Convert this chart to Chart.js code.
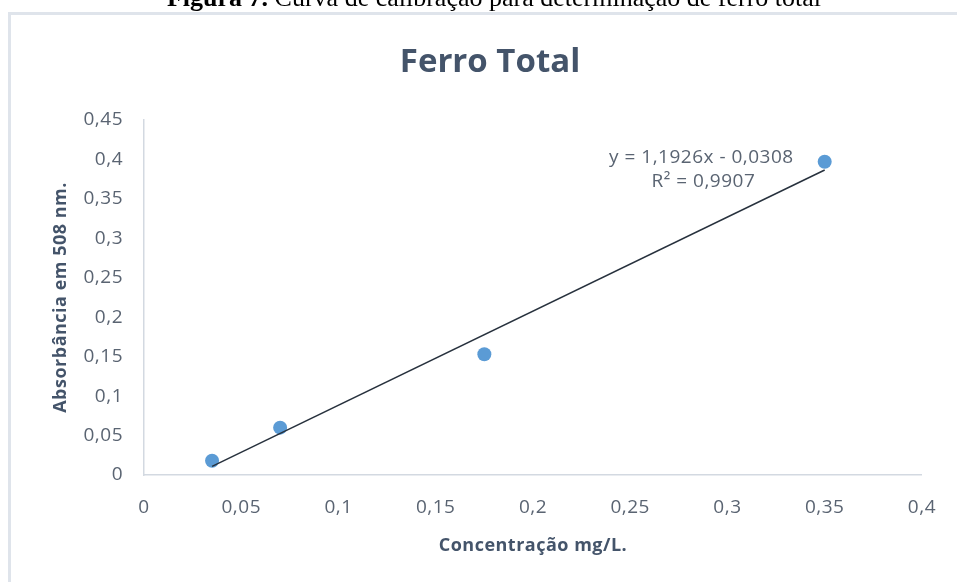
<!DOCTYPE html>
<html>
<head>
<meta charset="utf-8">
<script src="https://cdn.jsdelivr.net/npm/chart.js@4.4.1/dist/chart.umd.min.js"></script>
<style>
  html, body { margin: 0; padding: 0; background: #ffffff; }
  #wrap { position: relative; width: 957px; height: 582px; }
  canvas { display: block; }
</style>
</head>
<body>
<div id="wrap"><canvas id="chart" width="957" height="582"></canvas></div>
<script>
// Calibration data: iron concentration (mg/L) vs absorbance at 508 nm
const concentracao = [0.035, 0.07, 0.175, 0.35];
const absorbancia  = [0.018, 0.06, 0.153, 0.397];

// Linear fit reported on the chart
const inclinacao = 1.1926;
const intercepto = -0.0308;
const r2 = 0.9907;

// Axis ticks
const xTickValues = [0, 0.05, 0.1, 0.15, 0.2, 0.25, 0.3, 0.35, 0.4];
const xTickLabels = ['0', '0,05', '0,1', '0,15', '0,2', '0,25', '0,3', '0,35', '0,4'];
const yTickValues = [0, 0.05, 0.1, 0.15, 0.2, 0.25, 0.3, 0.35, 0.4, 0.45];
const yTickLabels = ['0', '0,05', '0,1', '0,15', '0,2', '0,25', '0,3', '0,35', '0,4', '0,45'];

const legendaNumero = 'Figura 7.';
const legenda = 'Curva de calibração para determinação de ferro total';
const tituloGrafico = 'Ferro Total';
const tituloX = 'Concentração mg/L.';
const tituloY = 'Absorbância em 508 nm.';
const equacao = 'y = 1,1926x - 0,0308';
const textoR2 = 'R² = 0,9907';

const pontos = concentracao.map((x, i) => ({ x, y: absorbancia[i] }));
const xIni = concentracao[0];
const xFim = concentracao[concentracao.length - 1];
const tendencia = [
  { x: xIni, y: inclinacao * xIni + intercepto },
  { x: xFim, y: inclinacao * xFim + intercepto }
];

const SANS = "'Open Sans', 'DejaVu Sans', sans-serif";
const SERIF = "'Liberation Serif', 'Times New Roman', serif";
const tickColor = '#5a6472';
const titleColor = '#44546a';
const axisColor = '#d3d9e1';
const ESPACO = '0.5px';

// Page frame, figure caption, chart title and the fit equation
const moldura = {
  id: 'moldura',
  beforeUpdate(chart) { chart.ctx.letterSpacing = ESPACO; },
  beforeDraw(chart) {
    const ctx = chart.ctx;
    ctx.letterSpacing = ESPACO;
    ctx.save();
    ctx.letterSpacing = '0px';
    ctx.fillStyle = '#ffffff';
    ctx.fillRect(0, 0, chart.width, chart.height);
    ctx.strokeStyle = '#dfe4eb';
    ctx.lineWidth = 3;
    ctx.beginPath();
    ctx.moveTo(9.5, chart.height + 5);
    ctx.lineTo(9.5, 13.5);
    ctx.lineTo(chart.width + 5, 13.5);
    ctx.stroke();

    // caption in a serif face, running off the top edge of the page
    ctx.fillStyle = '#000000';
    ctx.textBaseline = 'alphabetic';
    const fb = 'bold 26px ' + SERIF;
    const fr = '26px ' + SERIF;
    const parte2 = ' ' + legenda;
    ctx.font = fb; const w1 = ctx.measureText(legendaNumero).width;
    ctx.font = fr; const w2 = ctx.measureText(parte2).width;
    const x0 = 494 - (w1 + w2) / 2;
    ctx.font = fb; ctx.fillText(legendaNumero, x0, 6);
    ctx.font = fr; ctx.fillText(parte2, x0 + w1, 6);

    ctx.font = 'bold 33px ' + SANS;
    ctx.fillStyle = titleColor;
    ctx.textAlign = 'center';
    ctx.textBaseline = 'middle';
    ctx.fillText(tituloGrafico, 490, 63);
    ctx.restore();
  },
  afterDatasetsDraw(chart) {
    const ctx = chart.ctx;
    const xs = chart.scales.x, ys = chart.scales.y;
    const cx = xs.getPixelForValue(0.2866);
    const cy = ys.getPixelForValue(0.4018);
    ctx.save();
    ctx.font = '19px ' + SANS;
    ctx.fillStyle = tickColor;
    ctx.textAlign = 'center';
    ctx.textBaseline = 'middle';
    ctx.fillText(equacao, cx, cy);
    ctx.fillText(textoR2, cx + 2, cy + 24);
    ctx.restore();
  }
};

new Chart(document.getElementById('chart'), {
  type: 'scatter',
  data: {
    datasets: [
      {
        type: 'line',
        label: 'Linear',
        data: tendencia,
        borderColor: '#27313d',
        borderWidth: 1.5,
        pointRadius: 0,
        fill: false,
        order: 0
      },
      {
        label: 'Ferro Total',
        data: pontos,
        backgroundColor: '#5b9bd5',
        borderWidth: 0,
        pointRadius: 7,
        pointHoverRadius: 7,
        order: 1
      }
    ]
  },
  plugins: [moldura],
  options: {
    responsive: false,
    animation: false,
    events: [],
    layout: { padding: { left: 0, right: 30, top: 120, bottom: 0 } },
    plugins: {
      legend: { display: false },
      title: { display: false },
      tooltip: { enabled: false }
    },
    scales: {
      x: {
        type: 'linear',
        min: 0,
        max: 0.4,
        afterBuildTicks(scale) { scale.ticks = xTickValues.map(v => ({ value: v })); },
        afterFit(scale) { scale.height = 107; },
        grid: { display: false, drawTicks: false },
        border: { display: true, color: axisColor, width: 1.5 },
        ticks: {
          padding: 21,
          color: tickColor,
          font: { family: SANS, size: 19 },
          maxRotation: 0,
          autoSkip: false,
          callback: (v, i) => xTickLabels[i]
        },
        title: {
          display: true,
          text: tituloX,
          color: titleColor,
          font: { family: SANS, size: 18, weight: 'bold' },
          padding: { top: 0, bottom: 25 }
        }
      },
      y: {
        type: 'linear',
        min: 0,
        max: 0.45,
        afterBuildTicks(scale) { scale.ticks = yTickValues.map(v => ({ value: v })); },
        afterFit(scale) { scale.width = 144; },
        grid: { display: false, drawTicks: false },
        border: { display: true, color: axisColor, width: 1.5 },
        ticks: {
          padding: 21,
          color: tickColor,
          font: { family: SANS, size: 19 },
          autoSkip: false,
          callback: (v, i) => yTickLabels[i]
        },
        title: {
          display: true,
          text: tituloY,
          color: titleColor,
          font: { family: SANS, size: 18, weight: 'bold' },
          padding: { top: 50, bottom: 0 }
        }
      }
    }
  }
});
</script>
</body>
</html>
